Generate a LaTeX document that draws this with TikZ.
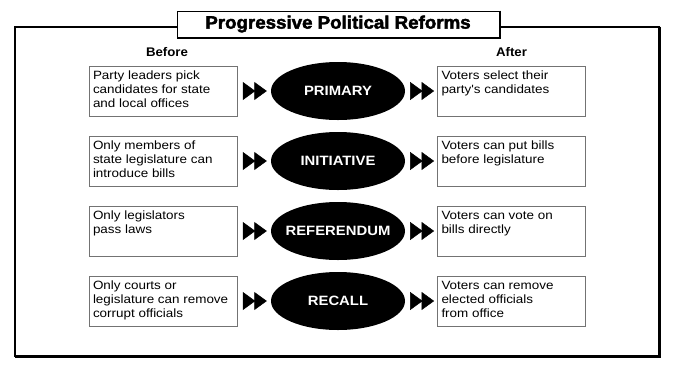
\documentclass[tikz,border=0pt]{standalone}
\usepackage{fontspec}
\setmainfont{Liberation Sans}
\newfontfamily\bodyf{Liberation Sans}[FakeStretch=1.12]
\newfontfamily\ellf{Liberation Sans Bold}[FakeStretch=1.1]
\newfontfamily\headf{Liberation Sans Bold}[FakeStretch=1.06]
\newfontfamily\titlef{Liberation Sans Bold}[FakeStretch=1.04,FakeBold=2.5]
\usetikzlibrary{shapes.geometric,arrows.meta}
\newcommand\boxtext[1]{\parbox[c][40pt][t]{140pt}{\raggedright\bodyf\fontsize{12}{14}\selectfont #1\par}}
\begin{document}
\begin{tikzpicture}[x=1pt,y=-1pt,
  txtbox/.style={draw=black!55, line width=0.8pt, minimum width=148pt, minimum height=50pt, inner xsep=4pt, inner ysep=5pt},
  reform/.style={ellipse, fill=black, minimum width=134pt, minimum height=58pt, inner sep=0pt, text=white, font=\ellf\fontsize{13.5}{14}\selectfont},
  dblarrow/.style={line width=0.5pt, -{Triangle[length=12.5pt,width=18pt,sep=-1pt]Triangle[length=12.5pt,width=18pt]}},
  head/.style={font=\headf\fontsize{12.5}{14}\selectfont},
]
\useasboundingbox (0,0) rectangle (681,376);
% outer frame with shadow
\draw[line width=1.1pt] (15,27) rectangle (659,356);
\draw[line width=2.2pt] (659.6,26.5) -- (659.6,356.6) -- (14.5,356.6);
% title
\node[draw, line width=1pt, fill=white, minimum width=322pt, minimum height=26pt, inner sep=0pt,
      font=\titlef\fontsize{18}{20}\selectfont] (title) at (338,24) {Progressive Political Reforms};
\draw[line width=2pt] ([xshift=0.5pt]title.north east) -- ([xshift=0.5pt,yshift=-0.5pt]title.south east) -- ([yshift=-0.5pt]title.south west);
% headings
\node[head] (before) at (167,52) {Before};
\node[head] (after) at (511.5,52) {After};
% rows
\foreach \i/\lt/\rf/\rt in {
  1/{Party leaders pick\\candidates for state\\and local offices}/PRIMARY/{Voters select their\\party's candidates},
  2/{Only members of\\state legislature can\\introduce bills}/INITIATIVE/{Voters can put bills\\before legislature},
  3/{Only legislators\\pass laws}/REFERENDUM/{Voters can vote on\\bills directly},
  4/{Only courts or\\legislature can remove\\corrupt officials}/RECALL/{Voters can remove\\elected officials\\from office}} {
  \pgfmathsetmacro\yy{91+70*(\i-1)}
  \node[txtbox] (l\i) at (163,\yy) {\boxtext{\lt}};
  \node[reform] (e\i) at (338,\yy) {\makebox[0pt]{\rf}};
  \node[txtbox] (r\i) at (511.5,\yy) {\boxtext{\rt}};
  \draw[dblarrow, shorten <=7pt, shorten >=4pt] (l\i) -- (e\i);
  \draw[dblarrow, shorten <=7pt, shorten >=3pt] (e\i) -- (r\i);
}
\end{tikzpicture}
\end{document}
